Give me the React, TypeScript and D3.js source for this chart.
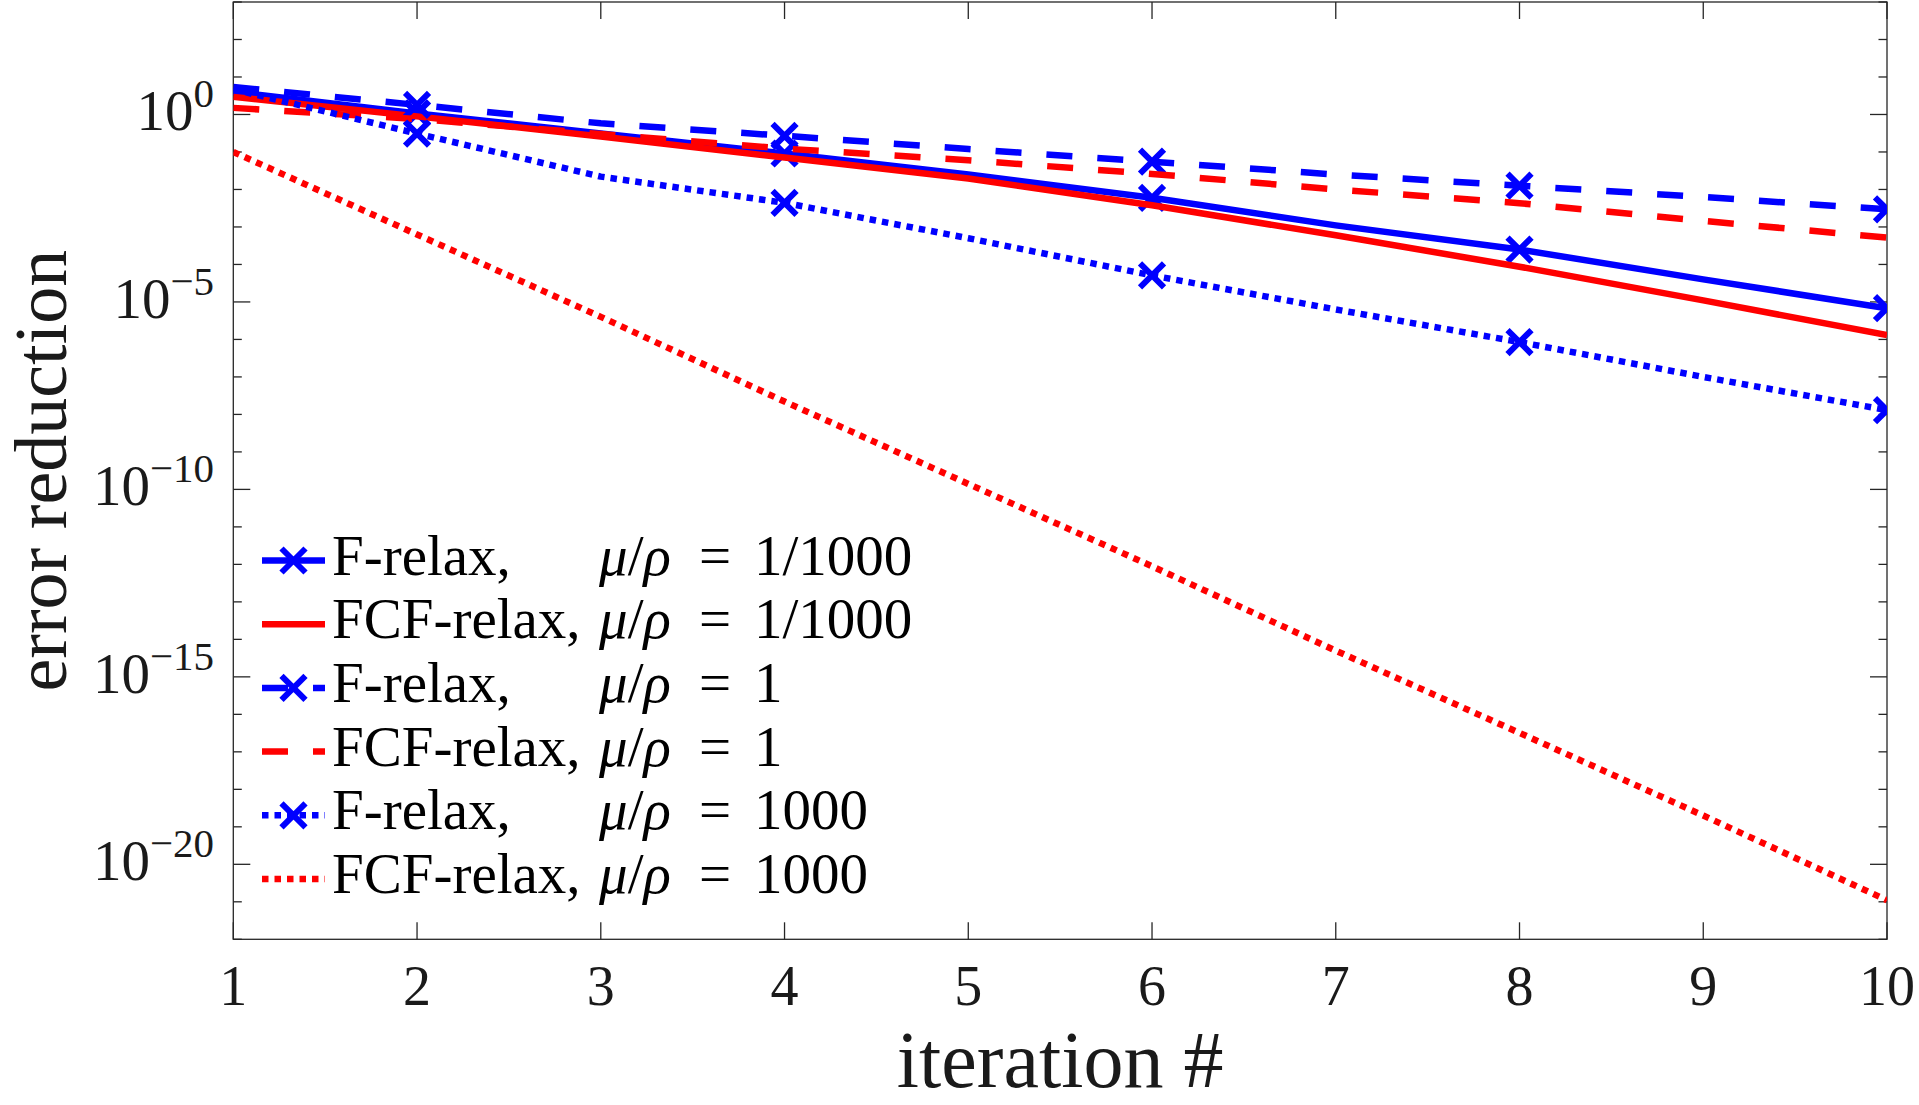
import React, { useEffect, useRef } from 'react';
import * as d3 from 'd3';

// error reduction per iteration
const iterations = [1, 2, 3, 4, 5, 6, 7, 8, 9, 10];
const markerIterations = [2, 4, 6, 8, 10];

const fRelaxMuSmall = [4.0, 1.07, 0.31, 9.1e-2, 2.5e-2, 6.0e-3, 1.1e-3, 2.5e-4, 4.0e-5, 6.8e-6];
const fcfRelaxMuSmall = [2.95, 0.89, 0.26, 7.1e-2, 1.95e-2, 3.8e-3, 6.0e-4, 8.7e-5, 1.1e-5, 1.3e-6];
const fRelaxMuOne = [5.4, 1.8, 0.58, 0.27, 0.12, 5.5e-2, 2.5e-2, 1.26e-2, 6.3e-3, 2.95e-3];
const fcfRelaxMuOne = [1.5, 0.76, 0.3, 0.123, 6.0e-2, 2.6e-2, 1.0e-2, 4.3e-3, 1.45e-3, 5.2e-4];
const fRelaxMuLarge = [4.7, 0.31, 2.2e-2, 4.4e-3, 5.0e-4, 5.1e-5, 6.3e-6, 8.5e-7, 1.0e-7, 1.3e-8];
const fcfRelaxMuLarge = [0.1, 6.3e-4, 4.0e-6, 2.2e-8, 1.4e-10, 8.9e-13, 5.0e-15, 3.2e-17, 2.0e-19, 1.1e-21];

const methodLabels = ['F-relax,', 'FCF-relax,', 'F-relax,', 'FCF-relax,', 'F-relax,', 'FCF-relax,'];
const ratioLabels = ['1/1000', '1/1000', '1', '1', '1000', '1000'];
const xTickValues = [1, 2, 3, 4, 5, 6, 7, 8, 9, 10];
const yMajorExponents = [0, -5, -10, -15, -20];

const BLUE = '#0000ff';
const RED = '#ff0000';
const AXIS = '#262626';
const FONT = '"Liberation Serif", "Times New Roman", serif';

const seriesData = [fRelaxMuSmall, fcfRelaxMuSmall, fRelaxMuOne, fcfRelaxMuOne, fRelaxMuLarge, fcfRelaxMuLarge];
const seriesStyle = [
  { color: BLUE, dash: null, marker: true },
  { color: RED, dash: null, marker: false },
  { color: BLUE, dash: '26 25', marker: true },
  { color: RED, dash: '26 25', marker: false },
  { color: BLUE, dash: '6.5 6', marker: true },
  { color: RED, dash: '6.5 6', marker: false },
];

const W = 1919;
const H = 1105;
const plot = { left: 233.3, right: 1887, top: 2, bottom: 939.3 };

const crossPath = 'M-12,-12L12,12M-12,12L12,-12';

const Chart = () => {
  const svgRef = useRef(null);

  useEffect(() => {
    const svg = d3.select(svgRef.current);
    svg.selectAll('*').remove();

    const xScale = d3.scaleLinear().domain([1, 10]).range([plot.left, plot.right]);
    const yScale = d3.scaleLog().domain([1e-22, 1e3]).range([plot.bottom, plot.top]);

    svg.append('rect').attr('width', W).attr('height', H).attr('fill', '#fff');

    svg
      .append('defs')
      .append('clipPath')
      .attr('id', 'plot-clip')
      .append('rect')
      .attr('x', plot.left)
      .attr('y', plot.top)
      .attr('width', plot.right - plot.left)
      .attr('height', plot.bottom - plot.top);

    // axes box and ticks
    const axes = svg.append('g').attr('stroke', AXIS).attr('stroke-width', 1.3);
    axes
      .append('rect')
      .attr('x', plot.left)
      .attr('y', plot.top)
      .attr('width', plot.right - plot.left)
      .attr('height', plot.bottom - plot.top)
      .attr('fill', 'none');

    xTickValues.forEach((v) => {
      const px = xScale(v);
      axes.append('line').attr('x1', px).attr('x2', px).attr('y1', plot.bottom).attr('y2', plot.bottom - 17);
      axes.append('line').attr('x1', px).attr('x2', px).attr('y1', plot.top).attr('y2', plot.top + 17);
    });

    d3.range(-22, 4).forEach((e) => {
      const py = yScale(Math.pow(10, e));
      const len = yMajorExponents.includes(e) ? 17 : 8.5;
      axes.append('line').attr('x1', plot.left).attr('x2', plot.left + len).attr('y1', py).attr('y2', py);
      axes.append('line').attr('x1', plot.right).attr('x2', plot.right - len).attr('y1', py).attr('y2', py);
    });

    // tick labels
    const labels = svg.append('g').attr('font-family', FONT).attr('fill', '#1a1a1a');
    xTickValues.forEach((v) => {
      labels
        .append('text')
        .attr('x', xScale(v))
        .attr('y', 1005)
        .attr('text-anchor', 'middle')
        .attr('font-size', 56)
        .text(v);
    });

    yMajorExponents.forEach((e) => {
      const t = labels
        .append('text')
        .attr('x', 214)
        .attr('y', yScale(Math.pow(10, e)) + 16)
        .attr('text-anchor', 'end')
        .attr('font-size', 57)
        .text('10');
      t.append('tspan')
        .attr('dy', -23)
        .attr('font-size', 41)
        .text(e === 0 ? '0' : '\u2212' + Math.abs(e));
    });

    labels
      .append('text')
      .attr('x', (plot.left + plot.right) / 2)
      .attr('y', 1087)
      .attr('text-anchor', 'middle')
      .attr('font-size', 80)
      .text('iteration #');

    labels
      .append('text')
      .attr('transform', `translate(66,${(plot.top + plot.bottom) / 2}) rotate(-90)`)
      .attr('text-anchor', 'middle')
      .attr('font-size', 74)
      .text('error reduction');

    // series
    const lines = svg.append('g').attr('clip-path', 'url(#plot-clip)');
    const line = d3
      .line<number>()
      .x((d, i) => xScale(iterations[i]))
      .y((d) => yScale(d));

    seriesData.forEach((values, k) => {
      const st = seriesStyle[k];
      lines
        .append('path')
        .attr('d', line(values))
        .attr('fill', 'none')
        .attr('stroke', st.color)
        .attr('stroke-width', 6.5)
        .attr('stroke-linejoin', 'round')
        .attr('stroke-dasharray', st.dash);

      if (st.marker) {
        lines
          .selectAll(null)
          .data(markerIterations)
          .enter()
          .append('path')
          .attr('d', crossPath)
          .attr('transform', (it) => `translate(${xScale(it)},${yScale(values[iterations.indexOf(it)])})`)
          .attr('fill', 'none')
          .attr('stroke', st.color)
          .attr('stroke-width', 6);
      }
    });

    // legend
    const legend = svg.append('g').attr('font-family', FONT).attr('fill', '#000');
    seriesStyle.forEach((st, k) => {
      const ly = 560.5 + k * 63.7;
      legend
        .append('line')
        .attr('x1', 262)
        .attr('x2', 325)
        .attr('y1', ly)
        .attr('y2', ly)
        .attr('stroke', st.color)
        .attr('stroke-width', 6.5)
        .attr('stroke-dasharray', st.dash);
      if (st.marker) {
        legend
          .append('path')
          .attr('d', crossPath)
          .attr('transform', `translate(293.5,${ly})`)
          .attr('fill', 'none')
          .attr('stroke', st.color)
          .attr('stroke-width', 6);
      }
      legend
        .append('text')
        .attr('x', 332)
        .attr('y', ly + 14)
        .attr('font-size', 57)
        .text(methodLabels[k]);

      const mu = legend.append('text').attr('x', 599).attr('y', ly + 14).attr('font-size', 57);
      mu.append('tspan').attr('font-style', 'italic').text('\u03bc');
      mu.append('tspan').text('/');
      mu.append('tspan').attr('font-style', 'italic').text('\u03c1');

      legend.append('text').attr('x', 699).attr('y', ly + 14).attr('font-size', 57).text('=');
      legend.append('text').attr('x', 754).attr('y', ly + 14).attr('font-size', 57).text(ratioLabels[k]);
    });
  }, []);

  return (
    <svg
      ref={svgRef}
      width={W}
      height={H}
      style={{ position: 'fixed', left: 0, top: 0, display: 'block' }}
    />
  );
};

export default function App() {
  return <Chart />;
}
